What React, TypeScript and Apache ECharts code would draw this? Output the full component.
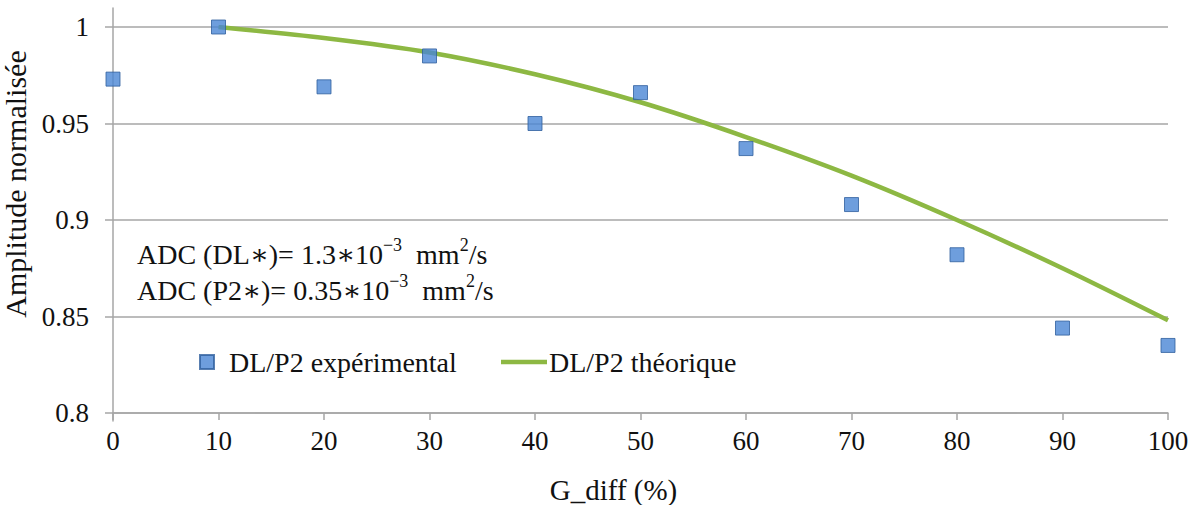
import React, { useEffect, useRef } from "react";
import * as echarts from "echarts";

const gDiff = [0, 10, 20, 30, 40, 50, 60, 70, 80, 90, 100];
const experimental = [0.973, 1.0, 0.969, 0.985, 0.95, 0.966, 0.937, 0.908, 0.882, 0.844, 0.835];
const gDiffTheory = [10, 20, 30, 40, 50, 60, 70, 80, 90, 100];
const theory = [1.0, 0.9943, 0.9868, 0.9755, 0.961, 0.943, 0.923, 0.9, 0.875, 0.848];
const seriesNames = ["DL/P2 expérimental", "DL/P2 théorique"];
const xTitle = "G_diff (%)";
const yTitle = "Amplitude normalisée";

const FONT = "Times New Roman, Liberation Serif, DejaVu Serif, serif";
const GRID_COLOR = "#a6a6a6";
const TEXT_COLOR = "#111111";
const GREEN = "#8db843";

export default function App() {
  const ref = useRef<HTMLDivElement>(null);
  useEffect(() => {
    document.body.style.margin = "0";
    const chart = echarts.init(ref.current!, null, { renderer: "svg" });
    const option: any = {
      animation: false,
      backgroundColor: "#ffffff",
      textStyle: { fontFamily: FONT },
      grid: [
        { left: 113, right: 28, top: 27, bottom: 92, containLabel: false, outerBoundsMode: "none" },
        { left: 113, right: 28, top: 8, bottom: 84, containLabel: false, outerBoundsMode: "none" },
      ],
      xAxis: [
        {
          type: "value",
          gridIndex: 0,
          min: 0,
          max: 100,
          interval: 10,
          name: xTitle,
          nameLocation: "middle",
          nameGap: 62,
          nameTextStyle: { fontFamily: FONT, fontSize: 29, color: TEXT_COLOR, padding: [0, 54, 0, 0] },
          axisLine: { show: true, lineStyle: { color: GRID_COLOR, width: 1.5 } },
          axisTick: { show: true, length: 7, lineStyle: { color: GRID_COLOR, width: 1.5 } },
          splitLine: { show: false },
          axisLabel: { fontFamily: FONT, fontSize: 27, color: TEXT_COLOR, margin: 14 },
        },
        { type: "value", gridIndex: 1, min: 0, max: 100, show: false },
      ],
      yAxis: [
        {
          type: "value",
          gridIndex: 0,
          min: 0.8,
          max: 1,
          interval: 0.05,
          name: yTitle,
          nameLocation: "middle",
          nameGap: 66,
          nameTextStyle: { fontFamily: FONT, fontSize: 30, color: TEXT_COLOR, padding: [0, 0, 0, 72] },
          axisLine: { show: false },
          axisTick: { show: true, length: 8, lineStyle: { color: GRID_COLOR, width: 1.5 } },
          splitLine: { show: true, lineStyle: { color: GRID_COLOR, width: 1.5 } },
          axisLabel: {
            fontFamily: FONT,
            fontSize: 27,
            color: TEXT_COLOR,
            margin: 24,
            formatter: (v: number) => String(parseFloat(v.toFixed(2))),
          },
        },
        {
          type: "value",
          gridIndex: 1,
          min: 0,
          max: 1,
          axisLine: { show: true, lineStyle: { color: GRID_COLOR, width: 1.5 } },
          axisTick: { show: false },
          axisLabel: { show: false },
          splitLine: { show: false },
        },
      ],
      legend: [
        {
          data: [{ name: seriesNames[0], icon: "rect" }],
          left: 199,
          top: 348,
          padding: 0,
          itemWidth: 14,
          itemHeight: 14,
          textStyle: { fontFamily: FONT, fontSize: 28, color: TEXT_COLOR, lineHeight: 28, padding: [0, 0, 0, 10] },
        },
        {
          data: [{ name: seriesNames[1], icon: "rect", itemStyle: { color: GREEN } }],
          left: 501,
          top: 348,
          padding: 0,
          itemWidth: 46,
          itemHeight: 4.5,
          textStyle: { fontFamily: FONT, fontSize: 28, color: TEXT_COLOR, lineHeight: 28, padding: [0, 0, 0, -3] },
        },
      ],
      graphic: [
        {
          type: "text",
          left: 137,
          top: 236,
          style: {
            text:
              "{b|ADC (DL∗)= 1.3∗10}{s|−3}{b|  mm}{s|2}{b|/s}\n{b|ADC (P2∗)= 0.35∗10}{s|−3}{b|  mm}{s|2}{b|/s}",
            rich: {
              b: { fontFamily: FONT, fontSize: 28, fill: TEXT_COLOR, lineHeight: 36, verticalAlign: "bottom" },
              s: { fontFamily: FONT, fontSize: 18, fill: TEXT_COLOR, lineHeight: 18, verticalAlign: "bottom", padding: [0, 0, 14, 0] },
            },
          },
        },
      ],
      series: [
        {
          name: seriesNames[1],
          type: "line",
          xAxisIndex: 0,
          yAxisIndex: 0,
          data: gDiffTheory.map((x, i) => [x, theory[i]]),
          smooth: 0.3,
          showSymbol: false,
          symbol: "none",
          lineStyle: { color: GREEN, width: 4.5 },
          itemStyle: { color: GREEN },
          z: 2,
        },
        {
          name: seriesNames[0],
          type: "scatter",
          xAxisIndex: 0,
          yAxisIndex: 0,
          data: gDiff.map((x, i) => [x, experimental[i]]),
          symbol: "rect",
          symbolSize: 14,
          itemStyle: { color: "#4a86d4", borderColor: "#2f5f9e", borderWidth: 1 },
          z: 3,
        },
      ],
    };
    chart.setOption(option);
    return () => chart.dispose();
  }, []);
  return <div ref={ref} style={{ width: 1196, height: 505 }} />;
}
